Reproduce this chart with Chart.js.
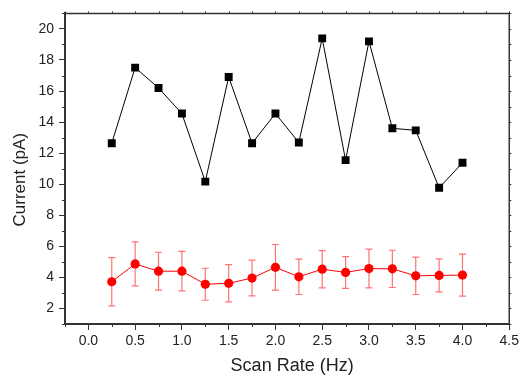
<!DOCTYPE html>
<html>
<head>
<meta charset="utf-8">
<script src="https://cdn.jsdelivr.net/npm/chart.js@4/dist/chart.umd.min.js"></script>
<style>
  html, body { margin: 0; padding: 0; background: #fff; }
  #wrap { width: 522px; height: 379px; }
</style>
</head>
<body>
<div id="wrap"><canvas id="c" width="522" height="379"></canvas></div>
<script>
const scanRate = [0.25, 0.5, 0.75, 1.0, 1.25, 1.5, 1.75, 2.0, 2.25, 2.5, 2.75, 3.0, 3.25, 3.5, 3.75, 4.0];
const currentBlack = [12.64, 17.51, 16.2, 14.55, 10.17, 16.91, 12.64, 14.55, 12.69, 19.39, 11.55, 19.2, 13.6, 13.47, 9.77, 11.38];
const currentRed = [3.72, 4.87, 4.4, 4.4, 3.56, 3.62, 3.96, 4.65, 4.04, 4.53, 4.32, 4.57, 4.55, 4.1, 4.13, 4.15];
const redErr = [1.55, 1.42, 1.22, 1.27, 1.03, 1.2, 1.15, 1.47, 1.14, 1.2, 1.02, 1.25, 1.2, 1.2, 1.06, 1.35];
const xTicks = [0.0, 0.5, 1.0, 1.5, 2.0, 2.5, 3.0, 3.5, 4.0, 4.5];
const xMinorTicks = [-0.25, 0.25, 0.75, 1.25, 1.75, 2.25, 2.75, 3.25, 3.75, 4.25];
const yTicks = [2, 4, 6, 8, 10, 12, 14, 16, 18, 20];
const yMinorTicks = [1, 3, 5, 7, 9, 11, 13, 15, 17, 19, 21];
const xLabel = 'Scan Rate (Hz)';
const yLabel = 'Current (pA)';

const FONT = '"Liberation Sans", Arial, sans-serif';
const AXIS_COLOR = '#333';

const blackPts = scanRate.map((x, i) => ({ x: x, y: currentBlack[i] }));
const redPts = scanRate.map((x, i) => ({ x: x, y: currentRed[i] }));

const errorBarPlugin = {
  id: 'errorBars',
  beforeDatasetsDraw(chart) {
    const xs = chart.scales.x, ys = chart.scales.y;
    const ctx = chart.ctx;
    ctx.save();
    ctx.strokeStyle = 'rgba(255,40,40,0.65)';
    ctx.lineWidth = 1.2;
    scanRate.forEach((x, i) => {
      const px = xs.getPixelForValue(x);
      const top = ys.getPixelForValue(currentRed[i] + redErr[i]);
      const bot = ys.getPixelForValue(currentRed[i] - redErr[i]);
      ctx.beginPath();
      ctx.moveTo(px, top); ctx.lineTo(px, bot);
      ctx.moveTo(px - 3.5, top); ctx.lineTo(px + 3.5, top);
      ctx.moveTo(px - 3.5, bot); ctx.lineTo(px + 3.5, bot);
      ctx.stroke();
    });
    ctx.restore();
  }
};

const framePlugin = {
  id: 'frame',
  afterDraw(chart) {
    const xs = chart.scales.x, ys = chart.scales.y;
    const a = chart.chartArea;
    const ctx = chart.ctx;
    ctx.save();
    ctx.strokeStyle = AXIS_COLOR;
    ctx.lineWidth = 1.5;
    ctx.beginPath();
    ctx.moveTo(a.left, a.top); ctx.lineTo(a.right, a.top); ctx.lineTo(a.right, a.bottom);
    ctx.stroke();
    ctx.lineWidth = 1;
    ctx.beginPath();
    xMinorTicks.forEach(v => {
      const px = Math.round(xs.getPixelForValue(v)) + 0.5;
      ctx.moveTo(px, a.bottom); ctx.lineTo(px, a.bottom + 3);
      ctx.moveTo(px, a.top); ctx.lineTo(px, a.top - 2);
    });
    xTicks.forEach(v => {
      const px = Math.round(xs.getPixelForValue(v)) + 0.5;
      ctx.moveTo(px, a.top); ctx.lineTo(px, a.top - 2);
    });
    yMinorTicks.forEach(v => {
      const py = Math.round(ys.getPixelForValue(v)) + 0.5;
      ctx.moveTo(a.left, py); ctx.lineTo(a.left - 3, py);
      ctx.moveTo(a.right, py); ctx.lineTo(a.right + 2, py);
    });
    yTicks.forEach(v => {
      const py = Math.round(ys.getPixelForValue(v)) + 0.5;
      ctx.moveTo(a.right, py); ctx.lineTo(a.right + 2, py);
    });
    ctx.stroke();

    // axis titles (positioned like the original figure)
    ctx.fillStyle = '#222';
    ctx.textAlign = 'center';
    ctx.textBaseline = 'middle';
    ctx.font = '18px ' + FONT;
    ctx.fillText(xLabel, (a.left + a.right) / 2 + 5, 366);
    ctx.translate(20, (a.top + a.bottom) / 2 + 11);
    ctx.rotate(-Math.PI / 2);
    ctx.font = '17px ' + FONT;
    ctx.fillText(yLabel, 0, 0);
    ctx.restore();
  }
};

new Chart(document.getElementById('c'), {
  type: 'line',
  data: {
    datasets: [
      {
        data: blackPts,
        borderColor: '#000',
        backgroundColor: '#000',
        borderWidth: 1,
        pointStyle: 'rect',
        pointRadius: 5.6,
        pointBorderWidth: 0,
        pointHoverRadius: 5.6,
        tension: 0
      },
      {
        data: redPts,
        borderColor: '#ff0000',
        backgroundColor: '#ff0000',
        borderWidth: 1,
        pointStyle: 'circle',
        pointRadius: 4.6,
        pointBorderWidth: 0,
        pointHoverRadius: 4.6,
        tension: 0
      }
    ]
  },
  options: {
    responsive: false,
    devicePixelRatio: 1,
    animation: false,
    layout: { padding: { top: 8, right: 10, left: 0, bottom: 0 } },
    plugins: {
      legend: { display: false },
      tooltip: { enabled: false }
    },
    scales: {
      x: {
        type: 'linear',
        min: -0.25,
        max: 4.5,
        afterBuildTicks: s => { s.ticks = xTicks.map(v => ({ value: v })); },
        afterFit: s => { s.height = 55; },
        ticks: {
          autoSkip: false,
          maxRotation: 0,
          color: '#222',
          font: { family: FONT, size: 14 },
          padding: 3,
          callback: v => Number(v).toFixed(1)
        },
        grid: {
          display: true,
          drawOnChartArea: false,
          drawTicks: true,
          tickLength: 6,
          color: AXIS_COLOR,
          lineWidth: 1
        },
        border: { display: true, color: AXIS_COLOR, width: 2 },
        title: { display: false, text: xLabel }
      },
      y: {
        type: 'linear',
        min: 1,
        max: 21,
        afterBuildTicks: s => { s.ticks = yTicks.map(v => ({ value: v })); },
        afterFit: s => { s.width = 65; },
        ticks: {
          autoSkip: false,
          color: '#222',
          font: { family: FONT, size: 14 },
          padding: 5,
          callback: v => String(v)
        },
        grid: {
          display: true,
          drawOnChartArea: false,
          drawTicks: true,
          tickLength: 6,
          color: AXIS_COLOR,
          lineWidth: 1
        },
        border: { display: true, color: AXIS_COLOR, width: 2 },
        title: { display: false, text: yLabel }
      }
    }
  },
  plugins: [errorBarPlugin, framePlugin]
});
</script>
</body>
</html>
